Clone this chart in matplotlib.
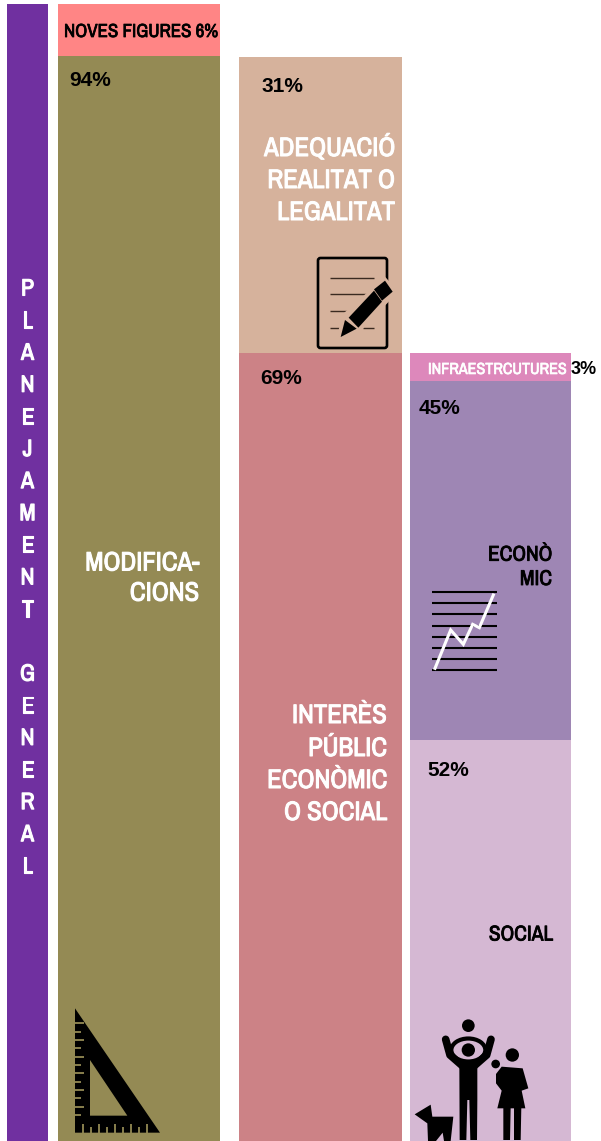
import matplotlib
matplotlib.use("Agg")
import matplotlib.pyplot as plt
import matplotlib.patheffects as pe
from matplotlib.patches import Polygon, Circle, Ellipse, FancyBboxPatch

FONT = "Liberation Sans"
NARROW = ["Archivo Narrow", "Roboto Condensed", "Liberation Sans"]

# --- data (segment heights, top to bottom) ---
col1_labels = ["NOVES FIGURES", "MODIFICACIONS"]
col1_heights = [52, 1085]
col1_colors = ["#FF8585", "#948A54"]
col2_labels = ["ADEQUACIO", "INTERES"]
col2_heights = [296, 788]
col2_colors = ["#D6B29C", "#CC8286"]
col3_labels = ["INFRAESTRUCTURES", "ECONOMIC", "SOCIAL"]
col3_heights = [28, 359, 401]
col3_colors = ["#DD88BB", "#9E86B4", "#D5B8D3"]
root_height = [1137]
root_color = "#7030A0"

fig = plt.figure(figsize=(6.01, 11.41), dpi=100)
ax = fig.add_axes([0, 0, 1, 1])
ax.set_xlim(0, 601)
ax.set_ylim(1141, 0)
ax.axis("off")

def stack(x0, x1, top, heights, colors):
    b = top
    for h, c in zip(heights, colors):
        ax.bar((x0 + x1) / 2, h, width=x1 - x0, bottom=b, color=c, edgecolor="none", zorder=1)
        b += h

stack(7, 48, 4, root_height, [root_color])
stack(58, 220, 4, col1_heights, col1_colors)
stack(239, 402, 57, col2_heights, col2_colors)
stack(410, 571, 353, col3_heights, col3_colors)

def T(x, y, s, size, color="black", ha="left", font=NARROW, stroke=0.75):
    t = ax.text(x, y, s, fontsize=size, color=color, ha=ha, va="baseline",
                family=font, fontweight="bold", zorder=5)
    if stroke:
        t.set_path_effects([pe.withStroke(linewidth=stroke, foreground=color)])

# vertical title
title = "PLANEJAMENT GENERAL"
ty0, dy = 295.5, 32.1
for i, ch in enumerate(title):
    if ch != " ":
        T(27.5, ty0 + i * dy, ch, 17, "white", ha="center", stroke=0.8)

T(64, 37, "NOVES FIGURES 6%", 13.6, stroke=0.55)
T(69, 85.5, "94%", 15, font=FONT, stroke=0)
T(261, 92.5, "31%", 15, font=FONT, stroke=0)
T(260, 383.5, "69%", 15, font=FONT, stroke=0)
T(419, 414, "45%", 15, font=FONT, stroke=0)
T(427, 776.5, "52%", 15, font=FONT, stroke=0)
T(571, 374.5, "3%", 13, font=FONT, stroke=0)
T(428, 374, "INFRAESTRCUTURES", 11.6, "white", stroke=0.45)
for y, s in zip((570.5, 600.7), ("MODIFICA-", "CIONS")):
    T(199, y, s, 19.2, "white", ha="right")
for y, s in zip((156, 188, 220), ("ADEQUACIÓ", "REALITAT O", "LEGALITAT")):
    T(395, y, s, 19.2, "white", ha="right")
for y, s in zip((723, 756, 788, 820), ("INTERÈS", "PÚBLIC", "ECONÒMIC", "O SOCIAL")):
    T(387, y, s, 19.2, "white", ha="right")
for y, s in zip((560.7, 585), ("ECONÒ", "MIC")):
    T(552, y, s, 15.4, ha="right", stroke=0.6)
T(553, 940.5, "SOCIAL", 15.4, ha="right", stroke=0.6)

BK = "black"
def poly(pts, c=BK, z=3, **kw):
    ax.add_patch(Polygon(pts, closed=True, fc=c, ec="none", zorder=z, **kw))

# document + pencil
TAN = col2_colors[0]
ax.add_patch(FancyBboxPatch((318, 258), 69, 90, boxstyle="round,pad=0,rounding_size=2.5",
                            fc="none", ec=BK, lw=1.9, zorder=3))
for y, x0, x1 in [(278, 330, 374), (294, 330, 374), (311, 330, 350), (328, 330, 340), (328, 363, 374)]:
    ax.plot([x0, x1], [y, y], color="#3a2a20", lw=1.0, zorder=3, solid_capstyle="butt")
zd = lambda p: [(300 + a / 3, 240 + b / 3) for a, b in p]
ax.add_patch(Polygon(zd([(210, 150), (255, 110), (295, 155), (180, 275), (130, 300), (110, 300), (125, 225)]),
                     fc=TAN, ec="none", zorder=3.5))
poly(zd([(122, 291), (135, 240), (170, 266)]), z=4)
poly(zd([(146, 233), (222, 152), (246, 185), (175, 263)]), z=4)
poly(zd([(222, 148), (255, 122), (278, 155), (246, 182)]), z=4)

# line chart icon
for y in (592.3, 603.3, 614.3, 625.7, 636.7, 648, 659, 670.3):
    ax.plot([432, 497], [y, y], color=BK, lw=1.5, zorder=3, solid_capstyle="butt")
zc = lambda p: [(410 + a / 3, 530 + b / 3) for a, b in p]
xs, ys = zip(*zc([(75, 415), (122, 300), (160, 343), (188, 283), (208, 293), (250, 195)]))
ax.plot(xs, ys, color="white", lw=2.2, zorder=4, solid_joinstyle="miter")

# family icon
zf = lambda p: [(400 + a / 3, 1000 + b / 3) for a, b in p]
def circ(a, b, r):
    (x, y), = zf([(a, b)])
    ax.add_patch(Circle((x, y), r / 3, fc=BK, ec="none", zorder=3))
circ(205, 77, 19); circ(205, 150, 20); circ(337, 165, 20); circ(287, 192, 13)
(ex, ey), = zf([(205, 150)])
ax.add_patch(Ellipse((ex, ey), 34, 23, fc="none", ec=BK, lw=3.0, zorder=3))
xs, ys = zip(*zf([(137, 118), (150, 165), (190, 200), (220, 200), (260, 165), (273, 118)]))
ax.plot(xs, ys, color=BK, lw=5.5, zorder=3, solid_capstyle="round", solid_joinstyle="round")
poly(zf([(178, 190), (232, 190), (232, 300), (231, 420), (211, 420), (208, 300), (202, 300), (199, 420), (179, 420)]))
poly(zf([(288, 222), (305, 200), (368, 205), (385, 265), (365, 272), (376, 325), (292, 325), (305, 272), (288, 250)]))
poly(zf([(310, 320), (332, 320), (330, 420), (310, 420)]))
poly(zf([(342, 320), (364, 320), (362, 420), (342, 420)]))
poly(zf([(44, 343), (92, 314), (97, 350), (160, 350), (152, 423), (132, 423), (128, 398), (108, 423), (84, 423), (82, 370)]))

# set square icon
OL = col1_colors[1]
zs = lambda p: [(50 + a / 3, 1000 + b / 3) for a, b in p]
poly(zs([(75, 25), (330, 398), (75, 398)]))
poly(zs([(120, 180), (232, 347), (120, 347)]), c=OL, z=3.2)
for i, b in enumerate(range(70, 350, 25)):
    L = 103 if i % 2 == 0 else 92
    xs, ys = zip(*zs([(73, b), (L, b)]))
    ax.plot(xs, ys, color=OL, lw=1.3, zorder=3.3, solid_capstyle="butt")
for i, a in enumerate(range(98, 310, 24)):
    L = 372 if i % 2 == 0 else 382
    xs, ys = zip(*zs([(a, 400), (a, L)]))
    ax.plot(xs, ys, color=OL, lw=1.3, zorder=3.3, solid_capstyle="butt")

fig.savefig("out.png", dpi=100, facecolor="white")
